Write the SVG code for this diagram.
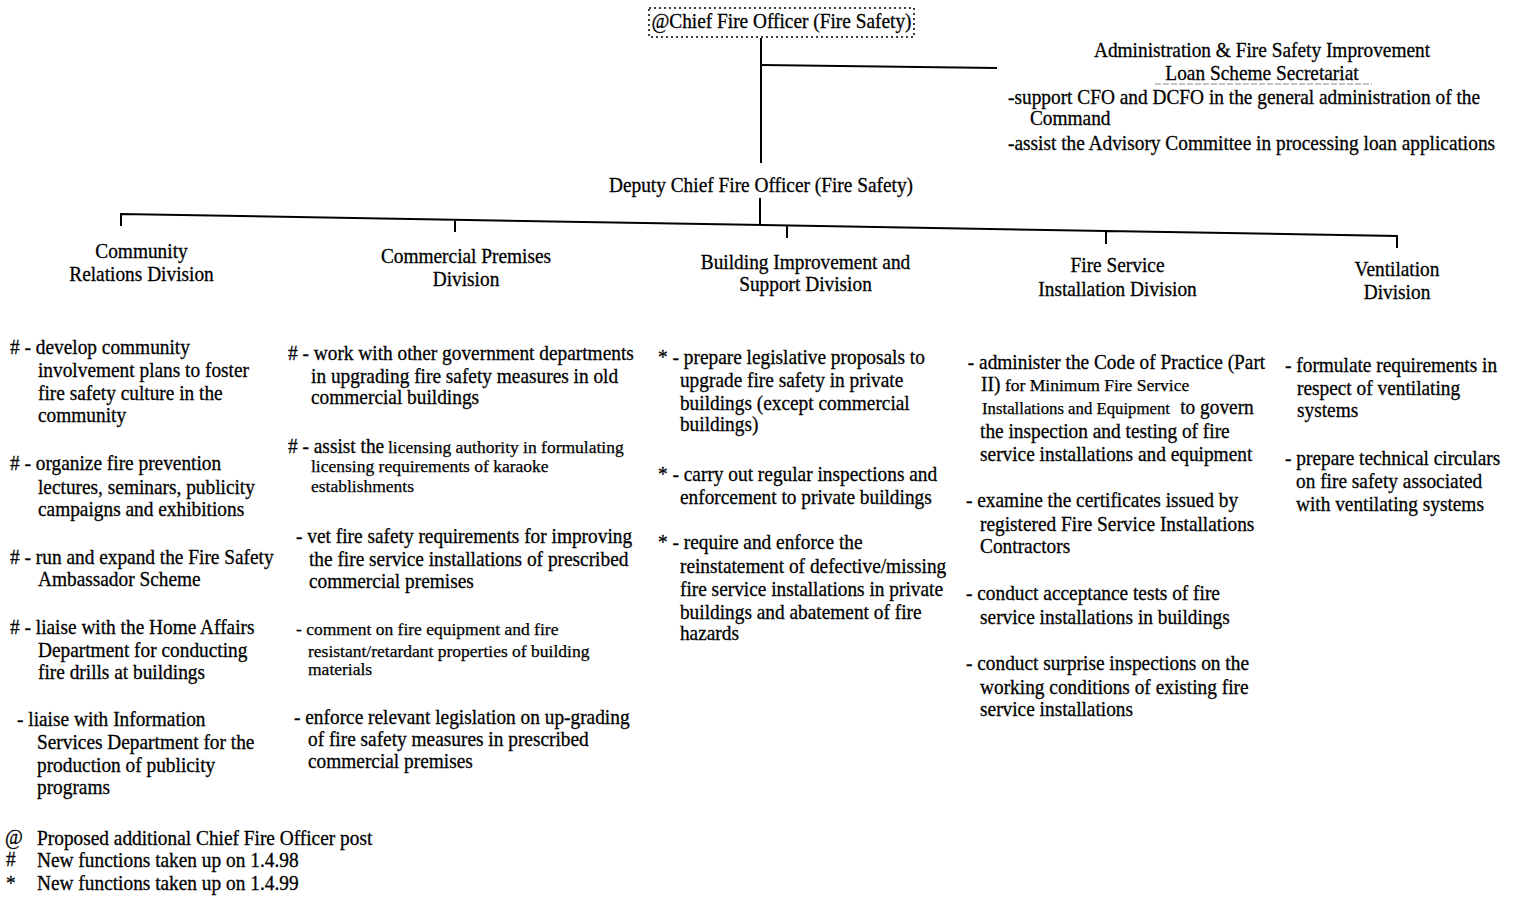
<svg xmlns="http://www.w3.org/2000/svg" width="1516" height="899" viewBox="0 0 1516 899">
<style>
.t{font-family:"Liberation Serif","Times New Roman",serif;font-size:21.5px;fill:#000;stroke:#000;stroke-width:0.3}
.s{font-family:"Liberation Serif","Times New Roman",serif;font-size:17.5px;fill:#000;stroke:#000;stroke-width:0.25}
.c{text-anchor:middle}
.ln{stroke:#000;stroke-width:2;fill:none}
</style>
<rect width="1516" height="899" fill="#fff"/>
<g id="connectors">
<line class="ln" x1="761" y1="38" x2="761" y2="163"/>
<line class="ln" x1="761" y1="65" x2="997" y2="68"/>
<line class="ln" x1="760" y1="198" x2="760" y2="225"/>
<path class="ln" d="M121,226 V214 L1397,236 V248 M455,220 V232 M787,225.5 V238 M1106,231 V244"/>
</g>
<g id="cfo">
<rect x="649" y="8" width="265" height="29" fill="none" stroke="#000" stroke-width="1.5" stroke-dasharray="2 3"/>
<text class="t c" transform="translate(781.5 0) scale(0.9 1)" x="0" y="28">@Chief Fire Officer (Fire Safety)</text>
</g>
<g id="admin">
<g transform="translate(1262 0) scale(0.9 1)">
<text class="t c" x="0" y="57">Administration &amp; Fire Safety Improvement</text>
<text class="t c" x="0" y="80">Loan Scheme Secretariat</text>
</g>
<line x1="1155" y1="84" x2="1372" y2="84" stroke="#888" stroke-width="1" stroke-dasharray="6 2"/>
<g transform="translate(1008 0) scale(0.9 1)">
<text class="t" x="0" y="104">-support CFO and DCFO in the general administration of the</text>
<text class="t" x="24.4" y="125">Command</text>
<text class="t" x="0" y="150">-assist the Advisory Committee in processing loan applications</text>
</g>
</g>
<g id="dcfo">
<text class="t c" transform="translate(761 0) scale(0.9 1)" x="0" y="192">Deputy Chief Fire Officer (Fire Safety)</text>
</g>
<g id="community">
<g transform="translate(141.5 0) scale(0.9 1)">
<text class="t c" x="0" y="258">Community</text>
<text class="t c" x="0" y="281">Relations Division</text>
</g>
<g transform="translate(10 0) scale(0.9 1)">
<text class="t" x="0" y="354"># - develop community</text>
<text class="t" x="31.1" y="377">involvement plans to foster</text>
<text class="t" x="31.1" y="400">fire safety culture in the</text>
<text class="t" x="31.1" y="422">community</text>
<text class="t" x="0" y="470"># - organize fire prevention</text>
<text class="t" x="31.1" y="494">lectures, seminars, publicity</text>
<text class="t" x="31.1" y="516">campaigns and exhibitions</text>
<text class="t" x="0" y="564"># - run and expand the Fire Safety</text>
<text class="t" x="31.1" y="586">Ambassador Scheme</text>
<text class="t" x="0" y="634"># - liaise with the Home Affairs</text>
<text class="t" x="31.1" y="657">Department for conducting</text>
<text class="t" x="31.1" y="679">fire drills at buildings</text>
<text class="t" x="7.8" y="726">- liaise with Information</text>
<text class="t" x="30" y="749">Services Department for the</text>
<text class="t" x="30" y="772">production of publicity</text>
<text class="t" x="30" y="794">programs</text>
</g>
</g>
<g id="commercial">
<g transform="translate(466 0) scale(0.9 1)">
<text class="t c" x="0" y="263">Commercial Premises</text>
<text class="t c" x="0" y="286">Division</text>
</g>
<g transform="translate(288 0) scale(0.9 1)">
<text class="t" x="0" y="360"># - work with other government departments</text>
<text class="t" x="25.6" y="383">in upgrading fire safety measures in old</text>
<text class="t" x="25.6" y="404">commercial buildings</text>
<text class="t" x="0" y="453"># - assist the</text>
<text class="t" x="8.9" y="543">- vet fire safety requirements for improving</text>
<text class="t" x="23.3" y="566">the fire service installations of prescribed</text>
<text class="t" x="23.3" y="588">commercial premises</text>
<text class="t" x="6.7" y="724">- enforce relevant legislation on up-grading</text>
<text class="t" x="22.2" y="746">of fire safety measures in prescribed</text>
<text class="t" x="22.2" y="768">commercial premises</text>
</g>
<text class="s" x="388" y="453">licensing authority in formulating</text>
<text class="s" x="311" y="472">licensing requirements of karaoke</text>
<text class="s" x="311" y="492">establishments</text>
<text class="s" x="296" y="635">- comment on fire equipment and fire</text>
<text class="s" x="308" y="657">resistant/retardant properties of building</text>
<text class="s" x="308" y="675">materials</text>
</g>
<g id="building">
<g transform="translate(805.5 0) scale(0.9 1)">
<text class="t c" x="0" y="269">Building Improvement and</text>
<text class="t c" x="0" y="291">Support Division</text>
</g>
<g transform="translate(658 0) scale(0.9 1)">
<text class="t" x="0" y="364">* - prepare legislative proposals to</text>
<text class="t" x="24.4" y="387">upgrade fire safety in private</text>
<text class="t" x="24.4" y="410">buildings (except commercial</text>
<text class="t" x="24.4" y="431">buildings)</text>
<text class="t" x="0" y="481">* - carry out regular inspections and</text>
<text class="t" x="24.4" y="504">enforcement to private buildings</text>
<text class="t" x="0" y="549">* - require and enforce the</text>
<text class="t" x="24.4" y="573">reinstatement of defective/missing</text>
<text class="t" x="24.4" y="596">fire service installations in private</text>
<text class="t" x="24.4" y="619">buildings and abatement of fire</text>
<text class="t" x="24.4" y="640">hazards</text>
</g>
</g>
<g id="fsi">
<g transform="translate(1117.5 0) scale(0.9 1)">
<text class="t c" x="0" y="272">Fire Service</text>
<text class="t c" x="0" y="296">Installation Division</text>
</g>
<g transform="translate(966 0) scale(0.9 1)">
<text class="t" x="2" y="369">- administer  the Code of Practice (Part</text>
<text class="t" x="16.7" y="391">II)</text>
<text class="t" x="238" y="414">to govern</text>
<text class="t" x="15.6" y="438">the inspection and testing of fire</text>
<text class="t" x="15.6" y="461">service installations and equipment</text>
<text class="t" x="0" y="507">- examine the certificates issued by</text>
<text class="t" x="15.6" y="531">registered Fire Service Installations</text>
<text class="t" x="15.6" y="553">Contractors</text>
<text class="t" x="0" y="600">- conduct acceptance tests of fire</text>
<text class="t" x="15.6" y="624">service installations in  buildings</text>
<text class="t" x="0" y="670">- conduct surprise inspections on the</text>
<text class="t" x="15.6" y="694">working conditions of existing fire</text>
<text class="t" x="15.6" y="716">service installations</text>
</g>
<text class="s" x="1005" y="391">for Minimum Fire Service</text>
<text class="s" x="982" y="414" textLength="188" lengthAdjust="spacingAndGlyphs">Installations and Equipment</text>
</g>
<g id="ventilation">
<g transform="translate(1397 0) scale(0.9 1)">
<text class="t c" x="0" y="276">Ventilation</text>
<text class="t c" x="0" y="299">Division</text>
</g>
<g transform="translate(1285 0) scale(0.9 1)">
<text class="t" x="0" y="372">- formulate requirements in</text>
<text class="t" x="13.3" y="395">respect of ventilating</text>
<text class="t" x="13.3" y="417">systems</text>
<text class="t" x="0" y="465">- prepare technical circulars</text>
<text class="t" x="12.2" y="488">on fire safety associated</text>
<text class="t" x="12.2" y="511">with ventilating systems</text>
</g>
</g>
<g id="legend">
<g transform="translate(5 0) scale(0.9 1)">
<text class="t" x="0" y="844">@</text>
<text class="t" x="1" y="866">#</text>
<text class="t" x="1" y="890">*</text>
<text class="t" x="35.6" y="845">Proposed additional Chief Fire Officer post</text>
<text class="t" x="35.6" y="867">New functions taken up on 1.4.98</text>
<text class="t" x="35.6" y="890">New functions taken up on 1.4.99</text>
</g>
</g>
</svg>
